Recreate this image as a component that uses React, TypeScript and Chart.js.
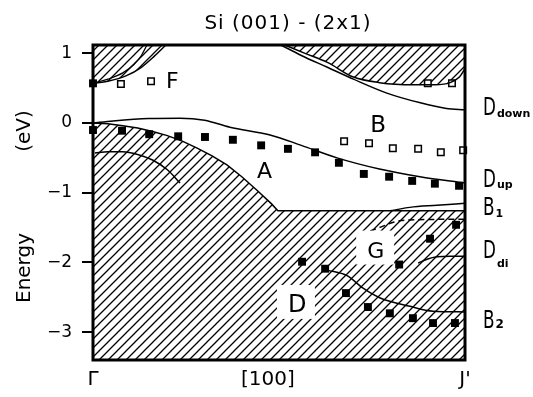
import React, { useEffect, useRef } from 'react';
import { Chart, registerables } from 'chart.js';

Chart.register(...registerables);

const FONT = '"DejaVu Sans", sans-serif';

// Axis ticks: energy (eV) and the wave-vector path Γ – J'
const yTicks = [1, 0, -1, -2, -3];
const kTickPos = [0, 0.47, 1];
const kTickLabels = ['Γ', '[100]', "J'"];

// Projected bulk bands: lower edge of the upper continuum (left and right pockets)
const kBulkTopLeft = [0, 0.04, 0.09, 0.13, 0.165, 0.196];
const eBulkTopLeft = [0.57, 0.6, 0.68, 0.8, 0.96, 1.12];
const kBulkTopLeftInner = [0, 0.04, 0.08, 0.11, 0.13, 0.145];
const eBulkTopLeftInner = [0.57, 0.63, 0.72, 0.84, 0.97, 1.12];
const kBulkTopRight = [0.515, 0.57, 0.63, 0.7, 0.77, 0.86, 0.92, 0.96, 0.985, 1.0];
const eBulkTopRight = [1.12, 1.0, 0.87, 0.66, 0.58, 0.55, 0.55, 0.58, 0.66, 0.78];

// Projected bulk valence band: upper edge
const kBulkLow = [0, 0.04, 0.08, 0.12, 0.16, 0.2, 0.24, 0.28, 0.32, 0.36, 0.4, 0.44, 0.48, 0.497, 1.0];
const eBulkLow = [0, -0.01, -0.04, -0.07, -0.12, -0.18, -0.26, -0.36, -0.47, -0.6, -0.77, -0.96, -1.16, -1.26, -1.26];
const kBulkInner = [0.005, 0.04, 0.08, 0.12, 0.16, 0.2, 0.234];
const eBulkInner = [-0.43, -0.41, -0.41, -0.45, -0.53, -0.67, -0.86];

// Calculated surface-state bands
const kDdown = [0.505, 0.56, 0.63, 0.7, 0.79, 0.88, 0.95, 1.0];
const eDdown = [1.12, 0.97, 0.8, 0.63, 0.43, 0.29, 0.21, 0.19];
const kDup = [0, 0.054, 0.15, 0.234, 0.3, 0.368, 0.476, 0.56, 0.656, 0.77, 0.879, 1.0];
const eDup = [0, 0.03, 0.065, 0.07, 0.04, -0.06, -0.17, -0.32, -0.5, -0.66, -0.77, -0.86];
const kB1 = [0.798, 0.852, 0.925, 1.0];
const eB1 = [-1.26, -1.21, -1.18, -1.15];
const kDash = [0.745, 0.775, 0.81, 0.85, 1.0];
const eDash = [-1.55, -1.49, -1.42, -1.39, -1.38];
const kDdi = [0.874, 0.9, 0.925, 0.96, 1.0];
const eDdi = [-2.01, -1.95, -1.92, -1.91, -1.91];
const kB2 = [0.629, 0.683, 0.726, 0.772, 0.852, 0.914, 1.0];
const eB2 = [-2.11, -2.19, -2.37, -2.51, -2.63, -2.7, -2.71];

// Photoemission peaks: filled = occupied-state structures, open = weaker features
const kA = [0, 0.078, 0.151, 0.229, 0.301, 0.376, 0.452, 0.524, 0.597, 0.661, 0.728, 0.796, 0.858, 0.919, 0.984];
const eA = [-0.1, -0.11, -0.16, -0.19, -0.2, -0.24, -0.32, -0.37, -0.42, -0.57, -0.73, -0.77, -0.83, -0.87, -0.9];
const kF0 = [0];
const eF0 = [0.57];
const kD = [0.562, 0.624, 0.68, 0.739, 0.798, 0.86, 0.914, 0.973];
const eD = [-1.99, -2.09, -2.44, -2.64, -2.73, -2.8, -2.87, -2.87];
const kG = [0.823, 0.906, 0.976];
const eG = [-2.03, -1.66, -1.46];
const kF = [0.075, 0.156, 0.9, 0.965];
const eF = [0.56, 0.6, 0.57, 0.57];
const kB = [0.675, 0.742, 0.806, 0.874, 0.935, 0.995];
const eB = [-0.26, -0.29, -0.36, -0.37, -0.42, -0.39];

const pts = (k: number[], e: number[]) => k.map((x, i) => ({ x, y: e[i] }));

function makeHatch(): CanvasPattern | string {
  const s = 9;
  const c = document.createElement('canvas');
  c.width = s;
  c.height = s;
  const g = c.getContext('2d');
  if (!g) return '#888';
  g.strokeStyle = '#000';
  g.lineWidth = 1.3;
  g.beginPath();
  g.moveTo(-1, s + 1);
  g.lineTo(s + 1, -1);
  g.moveTo(-1, 1);
  g.lineTo(1, -1);
  g.moveTo(s - 1, s + 1);
  g.lineTo(s + 1, s - 1);
  g.stroke();
  return g.createPattern(c, 'repeat') || '#888';
}

const decor = {
  id: 'decor',
  afterDatasetsDraw(chart: any) {
    const { ctx, chartArea: a, scales } = chart;
    const px = (k: number) => scales.x.getPixelForValue(k);
    const py = (e: number) => scales.y.getPixelForValue(e);
    ctx.save();
    ctx.fillStyle = '#000';
    ctx.textAlign = 'left';
    ctx.textBaseline = 'alphabetic';

    // letters inside the plot; G and D sit on white patches in the hatching
    const inner: [string, number, number, number, boolean][] = [
      ['F', 0.196, 0.5, 22, false],
      ['B', 0.745, -0.13, 23, false],
      ['A', 0.441, -0.79, 22, false],
      ['G', 0.737, -1.93, 22, true],
      ['D', 0.524, -2.71, 24, true],
    ];
    for (const [t, k, e, size, boxed] of inner) {
      const x = px(k);
      const y = py(e);
      if (boxed) {
        ctx.fillStyle = '#fff';
        ctx.fillRect(x - 11, y - 27, 38, 34);
        ctx.fillStyle = '#000';
      }
      ctx.font = `${size}px ${FONT}`;
      ctx.fillText(t, x, y);
    }

    // frame
    ctx.strokeStyle = '#000';
    ctx.lineWidth = 3;
    ctx.strokeRect(a.left, a.top, a.right - a.left, a.bottom - a.top);
    ctx.restore();
  },
  afterDraw(chart: any) {
    const { ctx, chartArea: a, scales } = chart;
    const py = (e: number) => scales.y.getPixelForValue(e);
    ctx.save();
    ctx.fillStyle = '#000';

    // title
    ctx.font = `20px ${FONT}`;
    ctx.textAlign = 'center';
    ctx.textBaseline = 'alphabetic';
    (ctx as any).letterSpacing = '1px';
    ctx.fillText('Si (001) - (2x1)', 288, 29);
    (ctx as any).letterSpacing = '0px';

    // energy axis title
    ctx.save();
    ctx.translate(30, 0);
    ctx.rotate(-Math.PI / 2);
    ctx.font = `20px ${FONT}`;
    ctx.textAlign = 'center';
    ctx.fillText('Energy', -268, 0);
    ctx.fillText('(eV)', -131, 0);
    ctx.restore();

    // band names at the J' edge
    const right: [string, string, number, number, number][] = [
      ['D', 'down', 0.115, 2, 11],
      ['D', 'up', -0.92, 1, 11],
      ['B', '1', -1.32, 2, 11],
      ['D', 'di', -1.94, 9, 11],
      ['B', '2', -2.94, 0, 12],
    ];
    const x0 = a.right + 18;
    ctx.textAlign = 'left';
    for (const [m, sub, e, dy, subSize] of right) {
      const y = py(e);
      ctx.save();
      ctx.translate(x0, y);
      ctx.scale(0.7, 1);
      ctx.font = `24px ${FONT}`;
      ctx.fillText(m, 0, 0);
      const w = ctx.measureText(m).width * 0.7;
      ctx.restore();
      ctx.font = `bold ${subSize}px ${FONT}`;
      ctx.fillText(sub, x0 + w + 1, y + dy);
    }
    ctx.restore();
  },
};

export default function App() {
  const ref = useRef<HTMLCanvasElement>(null);

  useEffect(() => {
    const canvas = ref.current;
    if (!canvas) return;
    const hatch = makeHatch();

    const curve = (k: number[], e: number[], extra: any = {}) => ({
      data: pts(k, e),
      showLine: true,
      borderColor: '#000',
      borderWidth: 1.5,
      pointRadius: 0,
      fill: false,
      cubicInterpolationMode: 'monotone',
      ...extra,
    });
    const marks = (k: number[], e: number[], filled: boolean) => ({
      data: pts(k, e),
      showLine: false,
      pointStyle: 'rect',
      pointRadius: filled ? 5.6 : 4.6,
      pointBackgroundColor: filled ? '#000' : '#fff',
      pointBorderColor: '#000',
      pointBorderWidth: filled ? 0 : 1.5,
      clip: false,
    });

    const chart = new Chart(canvas, {
      type: 'scatter',
      data: {
        datasets: [
          curve(kBulkLow, eBulkLow, { fill: 'start', backgroundColor: hatch, tension: 0, cubicInterpolationMode: 'default' }),
          curve(kBulkTopLeft, eBulkTopLeft, { fill: 'end', backgroundColor: hatch }),
          curve(kBulkTopRight, eBulkTopRight, { fill: 'end', backgroundColor: hatch }),
          curve(kBulkTopLeftInner, eBulkTopLeftInner, { borderWidth: 1.2 }),
          curve(kBulkInner, eBulkInner),
          curve(kDdown, eDdown),
          curve(kDup, eDup),
          curve(kB1, eB1),
          curve(kDash, eDash, { borderDash: [6, 4] }),
          curve(kDdi, eDdi),
          curve(kB2, eB2),
          marks(kA, eA, true),
          marks(kF0, eF0, true),
          marks(kD, eD, true),
          marks(kG, eG, true),
          marks(kF, eF, false),
          marks(kB, eB, false),
        ] as any,
      },
      options: {
        responsive: false,
        animation: false,
        events: [],
        layout: { padding: { top: 45, right: 68, left: 0, bottom: 0 } },
        plugins: {
          legend: { display: false },
          tooltip: { enabled: false },
          filler: { drawTime: 'beforeDatasetsDraw' },
        } as any,
        scales: {
          x: {
            type: 'linear',
            min: 0,
            max: 1,
            afterFit: (s: any) => {
              s.height = 37;
            },
            afterBuildTicks: (s: any) => {
              s.ticks = kTickPos.map((v) => ({ value: v }));
            },
            grid: { display: false, drawTicks: false },
            border: { display: false },
            ticks: {
              padding: 8,
              color: '#000',
              maxRotation: 0,
              autoSkip: false,
              font: { family: FONT, size: 20 },
              callback: (_v: any, i: number) => kTickLabels[i] ?? '',
            },
          },
          y: {
            type: 'linear',
            min: -3.4,
            max: 1.12,
            afterFit: (s: any) => {
              s.width = 93;
            },
            afterBuildTicks: (s: any) => {
              s.ticks = yTicks.map((v) => ({ value: v }));
            },
            grid: { drawOnChartArea: false, drawTicks: true, tickLength: 11, color: '#000', lineWidth: 2 },
            border: { display: false },
            ticks: {
              padding: 10,
              color: '#000',
              font: { family: FONT, size: 17 },
              callback: (v: any) => (v < 0 ? '\u2212' + Math.abs(v) : String(v)),
            },
          },
        } as any,
      },
      plugins: [decor],
    });

    return () => chart.destroy();
  }, []);

  return (
    <div style={{ position: 'absolute', left: 0, top: 0, width: 533, height: 397, background: '#fff' }}>
      <canvas ref={ref} width={533} height={397} style={{ display: 'block' }} />
    </div>
  );
}
